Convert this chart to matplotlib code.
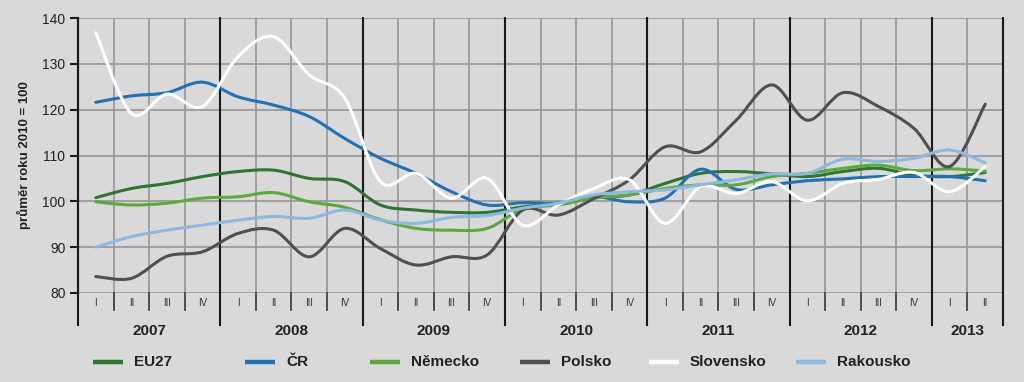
import numpy as np
import matplotlib
matplotlib.use('Agg')
import matplotlib.pyplot as plt
from matplotlib.path import Path
from matplotlib.patches import PathPatch
from matplotlib.lines import Line2D
import matplotlib.transforms as mtransforms

plt.rcParams['font.family'] = ['Liberation Sans Narrow', 'Liberation Sans', 'DejaVu Sans']

years = ['2007', '2008', '2009', '2010', '2011', '2012', '2013']
quarters = ['I', 'II', 'III', 'IV'] * 6 + ['I', 'II']

eu27 = [100.8, 102.8, 103.9, 105.4, 106.5, 106.8, 105.0, 104.3, 99.2, 98.1, 97.6, 97.6, 98.8,
        99.6, 100.8, 101.4, 103.9, 106.1, 106.5, 106.0, 105.4, 106.5, 107.2, 105.7, 105.4, 106.3]
cr = [121.6, 123.0, 123.7, 126.0, 122.8, 121.0, 118.5, 113.7, 109.4, 106.1, 102.1, 99.2, 99.7,
      99.6, 101.0, 99.9, 100.7, 107.0, 102.6, 103.6, 104.5, 104.9, 105.4, 105.4, 105.4, 104.5]
nemecko = [99.9, 99.2, 99.6, 100.7, 101.0, 101.9, 99.9, 98.7, 96.0, 94.1, 93.7, 94.1, 98.3,
           99.2, 100.7, 101.4, 102.8, 103.6, 103.6, 105.4, 106.1, 107.2, 107.9, 106.7, 107.1, 106.6]
polsko = [83.6, 83.2, 88.0, 89.0, 93.0, 93.7, 87.9, 94.1, 89.7, 86.1, 87.9, 88.3, 98.1,
          97.0, 100.6, 104.7, 111.9, 110.8, 117.7, 125.4, 117.7, 123.7, 120.7, 115.9, 107.6, 121.2]
slovensko = [136.8, 119.2, 123.4, 120.7, 131.6, 135.9, 127.6, 122.5, 104.3, 106.1, 100.7, 105.0, 94.8,
             99.2, 102.8, 104.7, 95.2, 103.2, 101.7, 104.3, 100.1, 103.9, 104.8, 106.3, 102.1, 107.6]
rakousko = [90.0, 92.3, 93.7, 94.8, 95.9, 96.7, 96.3, 98.1, 95.9, 95.2, 96.5, 96.9, 98.5,
            99.6, 101.4, 102.1, 102.5, 103.6, 104.7, 106.0, 106.1, 109.2, 108.7, 109.4, 111.2, 108.4]

series = [('EU27', eu27, '#2e7534'), ('ČR', cr, '#1f72b8'), ('Německo', nemecko, '#5aaa3c'),
          ('Polsko', polsko, '#505050'), ('Slovensko', slovensko, '#ffffff'),
          ('Rakousko', rakousko, '#8cb8e2')]


def smooth_path(xs, ys):
    # catmull-rom style bezier segments, similar to excel's smoothed line
    pts = np.column_stack([xs, ys])
    verts = [pts[0]]
    codes = [Path.MOVETO]
    n = len(pts)
    for i in range(n - 1):
        p0 = pts[max(i - 1, 0)]
        p1 = pts[i]
        p2 = pts[i + 1]
        p3 = pts[min(i + 2, n - 1)]
        c1 = p1 + (p2 - p0) / 6.0
        c2 = p2 - (p3 - p1) / 6.0
        verts += [c1, c2, p2]
        codes += [Path.CURVE4] * 3
    return Path(verts, codes)


bg = '#d9d9d9'
fig = plt.figure(figsize=(10.24, 3.82), dpi=100, facecolor=bg)
ax = fig.add_axes([78 / 1024, 1 - 293 / 382, 925 / 1024, 275 / 382], facecolor=bg)
nq = len(quarters)
ax.set_xlim(0, nq)
ax.set_ylim(80, 140)

for v in range(80, 141, 10):
    ax.axhline(v, color='#9a9a9a', lw=1.3, zorder=1)
for q in range(1, nq):
    if q % 4:
        ax.axvline(q, color='#9a9a9a', lw=1.3, zorder=1)

trans = mtransforms.blended_transform_factory(ax.transData, ax.transAxes)
for q in range(1, nq):
    if q % 4:
        ax.plot([q, q], [0, -0.062], transform=trans, color='#333333', lw=1.2, clip_on=False)
for q in list(range(0, nq, 4)) + [nq]:
    ax.plot([q, q], [1, -0.116], transform=trans, color='#1a1a1a', lw=1.5, clip_on=False, zorder=3)

xs = np.arange(nq) + 0.5
for name, vals, col in series:
    ax.add_patch(PathPatch(smooth_path(xs, vals), fill=False, edgecolor=col, lw=2.2,
                           capstyle='round', joinstyle='round', zorder=4))

for i, q in enumerate(quarters):
    ax.text(i + 0.5, -0.035, q, transform=trans, ha='center', va='center',
            fontsize=7, color='#333333')
for k, y in enumerate(years):
    x0 = k * 4
    x1 = min(x0 + 4, nq)
    ax.text((x0 + x1) / 2, -0.138, y, transform=trans, ha='center', va='center',
            fontsize=11, fontweight='bold', color='#222222')

for s in ['top', 'right', 'bottom']:
    ax.spines[s].set_visible(False)
ax.spines['left'].set_color('#1a1a1a')
ax.spines['left'].set_linewidth(1.5)
ax.set_xticks([])
ax.set_yticks(range(80, 141, 10))
ax.tick_params(axis='y', length=6, width=1.5, color='#1a1a1a', labelsize=10, labelcolor='#222222', pad=3)
ax.set_ylabel('průměr roku 2010 = 100', fontsize=9.5, fontweight='bold', color='#222222', labelpad=8)

# legend drawn by hand, spaced like the original
leg_x = [93, 245, 370, 520, 649, 796]
leg_y = 1 - 362 / 382
for (name, vals, col), lx in zip(series, leg_x):
    fig.add_artist(Line2D([lx / 1024, (lx + 30) / 1024], [leg_y, leg_y], color=col, lw=3.2,
                          solid_capstyle='butt'))
    fig.text((lx + 41) / 1024, leg_y, name, ha='left', va='center', fontsize=11,
             fontweight='bold', color='#222222')

fig.savefig('out.png', dpi=100, facecolor=bg)
